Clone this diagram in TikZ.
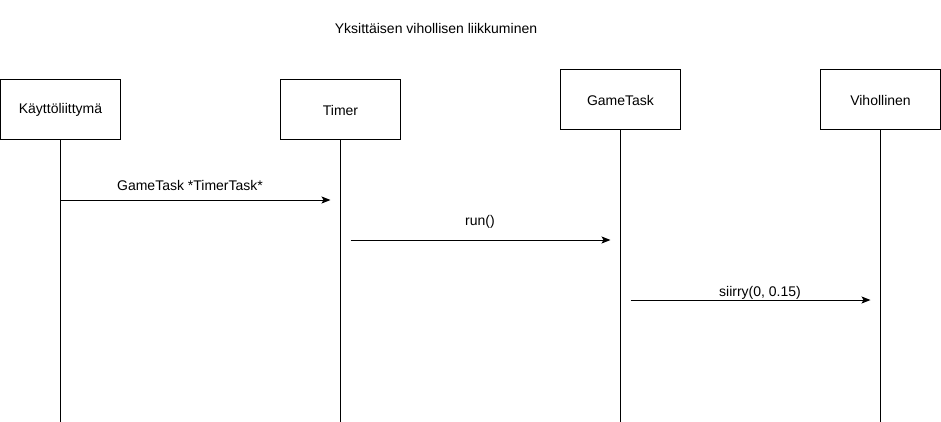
\documentclass[tikz,border=0pt]{standalone}
\usepackage{fontspec}
\setmainfont{Liberation Sans}
\usetikzlibrary{arrows.meta}
\usetikzlibrary{positioning}
\tikzset{obj node/.style={draw,line width=1pt,outer sep=0pt,minimum width=120pt,minimum height=60pt,inner sep=0pt,font=\fontsize{14}{16}\selectfont},
	life line/.style={line width=1pt},
	msg/.style={line width=1pt,-{Stealth[length=9pt,width=7pt,inset=2pt]}},
	msg label/.style={font=\fontsize{14}{16}\selectfont,inner sep=0pt}
}
\begin{document}
\begin{tikzpicture}[x=1pt,y=1pt]
		\useasboundingbox (0,0) rectangle (941,-422);
		\node[font=\fontsize{14}{16}\selectfont] (title) at (436,-28) {Yksittäisen vihollisen liikkuminen};
		
		\node[obj node] (ui) at (60.5,-110) {Käyttöliittymä};
		\node[obj node] (timer) [right = 160pt of ui] {Timer};
		\node[obj node] (task) [right = 160pt of timer, yshift=10pt] {GameTask};
		\node[obj node] (enemy) [right = 140pt of task] {Vihollinen};
		
		\coordinate (ui end) at (ui.south |- 0,-422);
		\coordinate (timer end) at (timer.south |- 0,-422);
		\coordinate (task end) at (task.south |- 0,-422);
		\coordinate (enemy end) at (enemy.south |- 0,-422);
		
		\path[life line,draw]
		(ui) -- (ui end)
		(timer) -- (timer end)
		(task) -- (task end)
		(enemy) -- (enemy end);
		%%
		\coordinate (m1 start) at (ui.south |- 0,-200);
		\coordinate (m1 end) at ([xshift=-10pt]timer.south |- 0,-200);
		\coordinate (m2 start) at ([xshift=10pt]timer.south |- 0,-240);
		\coordinate (m2 end) at ([xshift=-10pt]task.south |- 0,-240);
		\coordinate (m3 start) at ([xshift=10pt]task.south |- 0,-300);
		\coordinate (m3 end) at ([xshift=-10pt]enemy.south |- 0,-300);
		
		\draw[msg] (m1 start) -- (m1 end);
		\draw[msg] (m2 start) -- (m2 end);
		\draw[msg] (m3 start) -- (m3 end);
		
		\node[msg label] (m1 text) at (190,-185) {GameTask *TimerTask*};
		\node[msg label] (m2 text) at (480,-222) {run()};
		\node[msg label] (m3 text) at (760,-293) {siirry(0, 0.15)};
	\end{tikzpicture}
\end{document}
